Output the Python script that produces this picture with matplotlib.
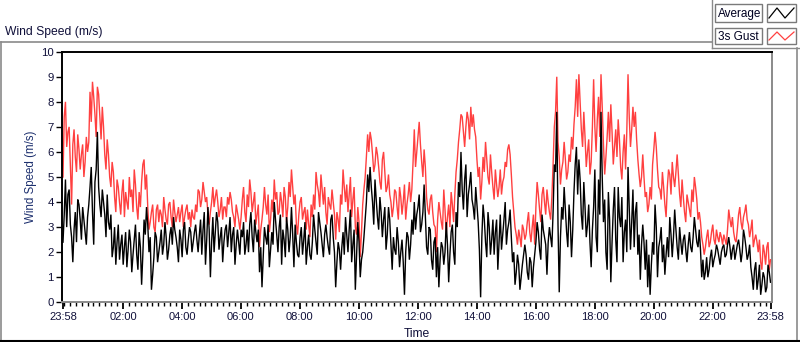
import numpy as np
import matplotlib
matplotlib.use("Agg")
import matplotlib.pyplot as plt
from matplotlib.lines import Line2D
from matplotlib.patches import Rectangle

# ---------------- data (minutes after 23:58) ----------------
# readings on the 5-minute grid (t = 0, 5, 10, ... 1440)
step_minutes = 5

gust = [
    # 23:58 - 05:58
    5.0, 8.0, 6.8, 5.5, 6.3, 5.8, 6.7, 5.3, 6.3, 5.6, 6.0, 8.4, 8.8, 7.5, 8.6, 7.4,
    7.8, 5.9, 6.5, 5.0, 5.6, 4.2, 4.9, 4.0, 4.4, 3.4, 4.0, 5.0, 4.5, 5.3, 3.8, 4.4,
    4.8, 5.7, 5.1, 2.9, 3.6, 3.0, 3.7, 3.2, 3.5, 4.2, 3.3, 3.9, 3.4, 4.1, 3.2, 3.8,
    3.6, 3.0, 3.7, 3.3, 3.0, 3.4, 3.9, 4.5, 3.8, 4.8, 4.0, 3.5, 3.6, 4.6, 4.2, 4.0,
    3.7, 3.3, 3.8, 4.2, 4.4, 3.6, 3.0, 3.6, 2.9,
    # 06:03 - 11:58
    4.1, 3.6, 4.3, 4.9, 3.6, 4.4, 3.5, 2.2, 3.3, 4.6, 3.5, 2.8, 4.1, 4.9, 4.4, 3.6,
    4.0, 4.6, 3.2, 4.8, 5.3, 3.9, 3.1, 3.5, 4.2, 3.6, 2.9, 3.1, 3.9, 4.3, 5.2, 4.4,
    5.1, 3.9, 3.6, 4.2, 3.7, 4.0, 2.5, 3.3, 4.3, 5.3, 4.0, 3.6, 5.0, 4.1, 3.0, 3.8,
    1.8, 3.9, 5.0, 6.7, 6.8, 5.9, 5.5, 5.9, 4.8, 5.7, 5.2, 4.6, 4.3, 3.4, 4.5, 3.8,
    4.6, 3.5, 4.7, 3.9, 4.8, 4.5, 6.9, 6.0,
    # 12:03 - 17:53
    7.2, 5.6, 6.1, 4.2, 3.5, 4.3, 3.1, 2.0, 4.0, 3.2, 4.5, 2.7, 3.9, 4.4, 3.2, 5.2,
    6.4, 7.5, 6.8, 7.0, 7.3, 7.8, 7.5, 6.6, 5.0, 4.1, 5.8, 6.4, 5.0, 5.9, 4.6, 5.3,
    4.2, 5.3, 4.8, 5.6, 6.1, 5.9, 4.2, 3.0, 2.3, 2.6, 3.1, 2.5, 3.2, 2.8, 3.0, 2.3,
    4.8, 3.7, 4.3, 4.0, 4.5, 3.6, 4.2, 7.0, 9.0, 5.8, 5.3, 6.4, 4.9, 5.9, 6.6, 7.1,
    8.9, 9.1, 6.9, 7.6, 5.4, 6.5, 5.6,
    # 17:58 - 23:58
    8.9, 6.0, 8.2, 9.1, 6.3, 5.8, 7.6, 7.9, 5.5, 6.9, 7.3, 5.4, 6.0, 5.3, 9.1, 6.2,
    7.8, 7.6, 5.7, 4.6, 5.9, 4.2, 3.6, 4.6, 5.5, 6.8, 5.3, 4.5, 5.2, 3.9, 4.6, 5.1,
    5.6, 4.6, 5.9, 4.3, 4.9, 3.6, 4.3, 3.7, 4.5, 5.0, 4.1, 3.6, 2.6, 1.9, 2.6, 2.2,
    2.8, 2.5, 2.9, 2.4, 2.6, 2.7, 2.3, 3.7, 3.0, 2.8, 2.4, 3.5, 3.2, 3.4, 3.9, 3.1,
    2.9, 2.2, 2.7, 2.0, 1.6, 2.3, 1.5, 2.4, 1.7,
]

# readings half-way between the 5-minute grid points (t = 2.5, 7.5, ...)
gust_between = [
    7.4, 6.2, 7.0, 3.9, 6.9, 5.2, 6.1, 5.9, 5.0, 6.6, 6.4, 7.2, 8.2, 6.6, 8.3, 6.5,
    7.0, 5.3, 5.9, 4.6, 5.2, 3.6, 4.6, 3.5, 4.9, 4.4, 3.7, 4.2, 3.6, 4.7, 3.3, 3.8,
    5.5, 4.5, 3.8, 3.2, 3.9, 2.8, 3.9, 3.7, 3.0, 3.7, 3.1, 4.0, 3.0, 3.6, 3.5, 3.2,
    3.9, 3.4, 3.9, 3.6, 3.7, 3.3, 3.6, 4.4, 4.1, 4.4, 4.2, 3.1, 4.0, 3.8, 4.5, 3.4,
    4.2, 3.8, 3.4, 3.9, 4.1, 3.4, 3.9, 3.3, 3.4,
    4.6, 3.2, 3.8, 4.4, 4.0, 3.1, 3.9, 2.9, 3.8, 3.9, 4.3, 3.3, 3.6, 4.1, 3.5, 4.4,
    3.4, 4.2, 3.8, 4.2, 4.6, 4.3, 2.7, 4.0, 3.3, 3.8, 3.7, 2.6, 3.4, 3.7, 4.7, 3.8,
    4.5, 4.6, 3.1, 3.9, 4.5, 3.5, 3.6, 2.8, 3.9, 4.6, 4.7, 4.3, 3.4, 4.6, 2.7, 3.2,
    2.8, 4.5, 5.8, 6.0, 6.5, 5.2, 6.2, 5.4, 4.5, 6.0, 4.4, 5.1, 4.0, 3.8, 4.4, 3.3,
    4.2, 4.0, 3.3, 4.3, 4.0, 5.6, 5.4, 6.6,
    6.3, 5.0, 5.4, 3.7, 4.1, 3.6, 3.0, 3.3, 3.6, 2.9, 3.7, 3.4, 3.0, 3.9, 4.3, 5.7,
    6.9, 7.4, 6.2, 7.6, 6.5, 7.0, 6.9, 5.7, 5.4, 4.8, 5.2, 5.7, 4.7, 5.2, 4.1, 4.7,
    4.6, 4.3, 5.0, 5.4, 6.3, 5.1, 3.6, 2.7, 2.9, 2.2, 2.9, 2.7, 3.6, 2.4, 3.5, 3.8,
    4.3, 3.2, 4.6, 3.5, 4.0, 3.3, 5.5, 7.6, 6.4, 4.7, 5.6, 5.7, 5.2, 5.6, 6.1, 7.8,
    7.4, 8.0, 6.2, 6.6, 6.0, 5.1, 7.0,
    7.0, 7.3, 6.6, 7.8, 5.1, 6.6, 6.4, 6.8, 6.2, 5.8, 6.5, 4.9, 6.7, 6.8, 7.4, 6.9,
    7.0, 6.5, 5.1, 5.0, 5.0, 4.4, 3.9, 4.1, 6.1, 6.2, 4.6, 4.1, 4.6, 3.4, 5.3, 4.3,
    5.0, 5.2, 5.1, 3.8, 4.2, 3.2, 4.0, 3.4, 4.0, 4.6, 3.3, 3.2, 2.3, 2.2, 2.9, 2.4,
    3.1, 2.3, 2.6, 2.8, 2.3, 2.5, 2.9, 3.3, 3.4, 2.5, 2.9, 3.8, 2.9, 3.6, 3.3, 2.6,
    3.3, 2.5, 2.4, 2.5, 1.3, 2.0, 2.2, 1.3,
]

average = [
    # 23:58 - 05:58
    2.4, 4.9, 4.3, 3.1, 1.6, 3.6, 4.1, 3.3, 3.8, 2.8, 3.4, 4.6, 3.6, 4.8, 6.8, 3.9,
    4.5, 3.5, 4.3, 2.9, 1.8, 3.0, 2.4, 1.7, 2.7, 2.2, 1.4, 2.9, 1.2, 2.5, 1.9, 2.8,
    0.7, 3.3, 3.8, 2.0, 0.5, 1.8, 2.6, 2.0, 2.9, 2.3, 2.6, 2.1, 3.0, 3.4, 2.6, 1.6,
    2.5, 2.9, 2.2, 2.5, 2.8, 2.4, 3.1, 2.0, 3.3, 2.9, 1.5, 3.8, 1.0, 3.4, 2.8, 3.2,
    2.6, 1.6, 2.9, 2.2, 3.4, 2.7, 1.5, 2.9, 1.9,
    # 06:03 - 11:58
    2.6, 1.9, 2.9, 3.1, 2.6, 3.3, 2.4, 1.2, 0.6, 3.0, 2.3, 1.4, 2.8, 4.0, 2.7, 3.0,
    1.5, 2.5, 3.4, 2.0, 3.8, 1.4, 2.4, 1.8, 3.0, 2.5, 1.5, 2.7, 1.7, 3.5, 2.4, 3.6,
    2.8, 1.8, 3.1, 2.2, 3.3, 2.6, 0.6, 2.4, 1.3, 2.8, 3.4, 2.0, 3.7, 2.3, 0.5, 3.2,
    1.0, 2.0, 3.3, 5.1, 5.4, 4.0, 4.9, 3.4, 4.2, 2.6, 3.8, 2.7, 3.3, 1.3, 2.1, 3.0,
    1.4, 2.5, 0.3, 2.8, 1.7, 3.3, 4.0, 3.5,
    # 12:03 - 17:53
    4.3, 3.1, 4.7, 2.2, 3.0, 1.7, 2.4, 1.0, 0.6, 2.4, 1.5, 3.2, 0.8, 2.8, 2.0, 3.6,
    4.8, 6.0, 3.7, 5.5, 4.3, 5.2, 3.8, 4.6, 3.2, 0.2, 3.9, 2.4, 3.6, 1.9, 3.3, 2.8,
    1.3, 3.5, 2.7, 4.0, 2.9, 3.7, 1.6, 0.7, 1.9, 0.5, 1.5, 2.3, 1.2, 1.8, 0.6, 1.9,
    3.2, 2.1, 3.5, 2.6, 1.1, 3.0, 2.2, 5.5, 7.6, 0.4, 3.8, 4.6, 2.8, 3.9, 1.8, 4.4,
    6.2, 5.7, 3.5, 4.8, 2.6, 3.9, 1.4,
    # 17:58 - 23:58
    3.8, 2.6, 4.9, 7.6, 3.2, 2.0, 4.4, 0.8, 3.7, 2.5, 4.6, 3.0, 1.6, 3.3, 5.4, 2.1,
    4.5, 3.6, 1.9, 0.9, 3.1, 1.3, 0.6, 0.3, 2.4, 3.9, 1.0, 2.5, 1.6, 1.1, 2.6, 3.4,
    1.8, 3.7, 2.2, 3.0, 1.9, 2.7, 1.6, 2.8, 2.0, 3.4, 2.4, 2.9, 1.0, 0.9, 1.8, 1.3,
    2.1, 1.7, 2.3, 1.8, 2.0, 2.3, 1.9, 2.6, 1.7, 2.3, 2.0, 2.5, 1.6, 2.9, 2.2, 1.9,
    1.4, 0.5, 1.6, 0.9, 0.3, 1.2, 0.4, 1.5, 0.8,
]

average_between = [
    3.5, 3.0, 4.5, 2.6, 2.9, 2.4, 3.9, 2.5, 3.3, 2.3, 3.9, 5.4, 2.3, 5.3, 4.6, 3.4,
    4.0, 2.6, 3.2, 3.5, 2.2, 1.5, 3.1, 2.3, 1.5, 2.8, 2.1, 2.4, 1.9, 3.1, 1.3, 2.2,
    1.9, 2.7, 3.1, 2.6, 1.1, 2.8, 1.6, 2.4, 1.9, 3.2, 1.7, 2.7, 2.3, 2.9, 2.2, 2.9,
    1.8, 3.2, 1.9, 3.0, 2.0, 2.8, 2.5, 2.7, 1.9, 3.6, 2.5, 2.9, 2.4, 2.0, 3.6, 2.1,
    3.0, 2.4, 3.1, 2.8, 2.0, 3.0, 2.3, 2.4, 2.9,
    3.2, 2.3, 2.0, 3.6, 2.0, 2.8, 2.9, 2.2, 1.8, 2.6, 3.1, 2.1, 2.3, 3.3, 2.0, 3.5,
    2.9, 1.8, 2.9, 2.6, 2.7, 3.1, 1.9, 2.6, 1.9, 3.2, 2.2, 1.9, 2.4, 2.9, 1.9, 3.2,
    2.3, 2.7, 2.6, 1.9, 3.5, 2.0, 1.6, 2.1, 2.2, 1.9, 2.7, 2.9, 1.6, 2.9, 1.8, 2.4,
    1.7, 2.6, 4.0, 4.4, 4.6, 3.1, 4.1, 2.9, 3.6, 3.3, 2.1, 3.8, 2.3, 2.6, 1.9, 2.4,
    2.0, 1.6, 2.0, 2.6, 2.3, 2.7, 2.9, 3.8,
    2.8, 3.6, 3.4, 1.9, 2.9, 1.3, 2.6, 2.2, 1.7, 2.2, 2.0, 2.3, 1.9, 3.1, 1.5, 3.0,
    4.2, 4.5, 4.9, 3.4, 4.7, 4.1, 3.3, 3.9, 2.1, 2.6, 3.3, 1.8, 3.0, 2.5, 1.9, 3.3,
    2.4, 2.1, 3.3, 2.3, 3.2, 2.6, 2.0, 1.2, 1.5, 1.0, 1.9, 1.9, 0.9, 1.6, 1.4, 2.4,
    2.8, 1.7, 2.9, 2.3, 2.4, 2.6, 3.6, 5.2, 3.1, 2.6, 3.3, 3.7, 2.2, 3.2, 2.9, 5.5,
    4.3, 4.9, 2.9, 3.8, 3.1, 2.4, 2.9,
    5.3, 2.0, 3.5, 5.0, 4.1, 1.3, 3.3, 2.4, 4.6, 1.6, 3.4, 4.2, 2.8, 2.0, 3.8, 3.2,
    2.2, 4.0, 2.7, 2.3, 2.4, 2.5, 1.9, 1.5, 1.9, 3.0, 2.2, 3.0, 2.3, 1.9, 1.8, 2.7,
    2.6, 2.9, 1.7, 2.4, 2.5, 2.1, 2.3, 2.2, 2.6, 2.9, 2.2, 2.1, 1.7, 1.2, 1.0, 1.8,
    1.4, 1.9, 2.1, 1.5, 2.2, 1.8, 2.3, 2.2, 2.1, 1.7, 2.3, 2.1, 2.0, 2.6, 1.7, 2.3,
    1.0, 1.3, 0.5, 1.5, 0.7, 1.0, 0.6, 1.2,
]

assert len(gust) == len(average) == 289, (len(gust), len(average))
assert len(gust_between) == len(average_between) == 288, (
    len(gust_between), len(average_between))

tick_minutes = [0, 122, 242, 362, 482, 602, 722, 842, 962, 1082, 1202, 1322, 1440]
tick_labels = ["23:58", "02:00", "04:00", "06:00", "08:00", "10:00", "12:00",
               "14:00", "16:00", "18:00", "20:00", "22:00", "23:58"]
y_ticks = list(range(0, 11))

series_names = ["Average", "3s Gust"]
colors = {"Average": "#000000", "3s Gust": "#ff4040"}

# assemble the two readings of each series into one time-ordered sequence
n = len(gust)
t_grid = np.arange(n) * float(step_minutes)
minutes = np.empty(2 * n - 1)
minutes[0::2] = t_grid
minutes[1::2] = t_grid[:-1] + step_minutes / 2
gust_all = np.empty(2 * n - 1)
gust_all[0::2] = gust
gust_all[1::2] = gust_between
avg_all = np.empty(2 * n - 1)
avg_all[0::2] = average
avg_all[1::2] = average_between

# ---------------- figure ----------------
W, H = 800, 342
fig = plt.figure(figsize=(W / 100, H / 100), dpi=100)
fig.patch.set_facecolor("white")

FONT = "Liberation Sans"
TXT = "#10103a"


def fx(x):
    return x / W


def fy(y):
    return 1 - y / H


ax_l, ax_r, ax_t, ax_b = 62, 772, 51.7, 302.3
ax = fig.add_axes([fx(ax_l), fy(ax_b), (ax_r - ax_l) / W, (ax_b - ax_t) / H])

ax.plot(minutes, gust_all, color=colors["3s Gust"], lw=1.0, solid_joinstyle="miter")
ax.plot(minutes, avg_all, color=colors["Average"], lw=1.0, solid_joinstyle="miter")

px_per_min = 0.4917
ax.set_xlim(-1.0 / px_per_min, 1440 + 1.5 / px_per_min)
ax.set_ylim(0, 10)

ax.set_yticks(y_ticks)
ax.set_yticklabels([str(v) for v in y_ticks], fontfamily=FONT, fontsize=8.2, color=TXT)
ax.set_xticks(tick_minutes)
ax.set_xticklabels(tick_labels, fontfamily=FONT, fontsize=8, color=TXT)
ax.set_xticks(np.arange(122 - 120, 1441, 12), minor=True)
ax.tick_params(axis="y", direction="out", length=4, width=1, pad=2, colors="black",
               labelcolor=TXT)
ax.tick_params(axis="x", which="major", direction="out", length=5, width=1.3, pad=2,
               colors="black", labelcolor=TXT)
ax.tick_params(axis="x", which="minor", direction="out", length=3, width=1,
               colors="black")

for side in ("left", "top"):
    ax.spines[side].set_color("black")
    ax.spines[side].set_linewidth(1.4)
for side in ("right", "bottom"):
    ax.spines[side].set_color("#8a8a8a")
    ax.spines[side].set_linewidth(1.4)

ax.set_ylabel("Wind Speed (m/s)", fontfamily=FONT, fontsize=8.3, color="#1c2f6e",
              labelpad=3)
ax.set_xlabel("Time", fontfamily=FONT, fontsize=8.7, color=TXT, labelpad=4)

# ---------------- outer frame and title ----------------
gray = "#8a8a8a"
fig.add_artist(Line2D([fx(0.5), fx(712)], [fy(42), fy(42)], color=gray, lw=1.2))
fig.add_artist(Line2D([fx(712), fx(712)], [fy(0), fy(48)], color=gray, lw=1.0))
fig.add_artist(Line2D([fx(712), fx(800)], [fy(48), fy(48)], color=gray, lw=1.0))
fig.add_artist(Line2D([fx(0.8), fx(0.8)], [fy(42), fy(342)], color=gray, lw=1.2))
fig.add_artist(Line2D([fx(797), fx(797)], [fy(48), fy(342)], color=gray, lw=1.2))
fig.add_artist(Line2D([fx(0), fx(800)], [fy(340.8), fy(340.8)], color="black", lw=1.5))

fig.text(fx(5), fy(32), "Wind Speed (m/s)", fontfamily=FONT, fontsize=8.7,
         color=TXT, ha="left", va="center")

# ---------------- legend (plot legend boxes) ----------------
rows = [(4, 22), (28, 44)]
for name, (y0, y1) in zip(series_names, rows):
    fig.add_artist(Rectangle((fx(715), fy(y1)), (762 - 715) / W, (y1 - y0) / H,
                             facecolor="white", edgecolor="#7a7a7a", lw=1.0))
    fig.text(fx(718), fy((y0 + y1) / 2 + 0.5), name, fontfamily=FONT, fontsize=8.5,
             color="#000020", ha="left", va="center")
    fig.add_artist(Rectangle((fx(767), fy(y1)), (796 - 767) / W, (y1 - y0) / H,
                             facecolor="white", edgecolor="#7a7a7a", lw=1.0))
    lo, hi = y1 - 4, y0 + 4
    fig.add_artist(Line2D([fx(769), fx(777), fx(785), fx(794)],
                          [fy(lo), fy(hi), fy(lo), fy(hi)],
                          color=colors[name], lw=0.9))

fig.savefig("out.png", dpi=100, facecolor="white")
